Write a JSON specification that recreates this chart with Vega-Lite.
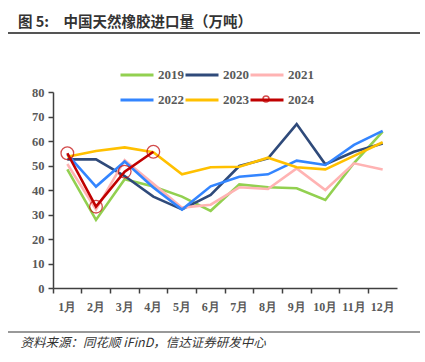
{
  "$schema": "https://vega.github.io/schema/vega-lite/v6.json",
  "autosize": "none",
  "width": 344,
  "height": 196,
  "padding": {"left": 53, "top": 92, "right": 28, "bottom": 74},
  "background": "white",
  "title": {
    "text": "图 5:　中国天然橡胶进口量（万吨）",
    "anchor": "start",
    "frame": "group",
    "dx": -35,
    "offset": 2,
    "font": "Noto Sans CJK SC",
    "fontSize": 14.5,
    "fontWeight": "bold",
    "color": "#333333"
  },
  "config": {
    "view": {"stroke": null},
    "axis": {"grid": false},
    "axisX": {
      "labelAngle": 0,
      "labelFont": "Liberation Serif",
      "labelFontWeight": "bold",
      "labelFontSize": 12,
      "labelColor": "#595959",
      "labelPadding": 8,
      "labelOverlap": false,
      "bandPosition": 0,
      "domainColor": "#404040",
      "domainWidth": 1.5,
      "tickColor": "#404040",
      "tickWidth": 1.5,
      "tickSize": 5
    },
    "axisY": {
      "labelOverlap": false,
      "labelFont": "Liberation Serif",
      "labelFontWeight": "bold",
      "labelFontSize": 12.5,
      "labelColor": "#595959",
      "labelPadding": 4,
      "domainColor": "#404040",
      "domainWidth": 1.5,
      "tickColor": "#404040",
      "tickWidth": 1.5,
      "tickSize": 5
    }
  },
  "datasets": {
    "decor": [{"k": "top"}]
  },
  "data": {
    "values": [
      {"month": "1月", "year": "2019", "value": 48.4},
      {"month": "2月", "year": "2019", "value": 27.8},
      {"month": "3月", "year": "2019", "value": 44.4},
      {"month": "4月", "year": "2019", "value": 41.4},
      {"month": "5月", "year": "2019", "value": 37.3},
      {"month": "6月", "year": "2019", "value": 31.5},
      {"month": "7月", "year": "2019", "value": 42.3},
      {"month": "8月", "year": "2019", "value": 41.1},
      {"month": "9月", "year": "2019", "value": 40.7},
      {"month": "10月", "year": "2019", "value": 35.9},
      {"month": "11月", "year": "2019", "value": 51.0},
      {"month": "12月", "year": "2019", "value": 63.8},
      {"month": "1月", "year": "2020", "value": 52.5},
      {"month": "2月", "year": "2020", "value": 52.5},
      {"month": "3月", "year": "2020", "value": 45.7},
      {"month": "4月", "year": "2020", "value": 37.3},
      {"month": "5月", "year": "2020", "value": 32.1},
      {"month": "6月", "year": "2020", "value": 38.0},
      {"month": "7月", "year": "2020", "value": 49.8},
      {"month": "8月", "year": "2020", "value": 52.9},
      {"month": "9月", "year": "2020", "value": 66.9},
      {"month": "10月", "year": "2020", "value": 50.5},
      {"month": "11月", "year": "2020", "value": 55.6},
      {"month": "12月", "year": "2020", "value": 59.0},
      {"month": "1月", "year": "2021", "value": 50.6},
      {"month": "2月", "year": "2021", "value": 32.0},
      {"month": "3月", "year": "2021", "value": 52.2},
      {"month": "4月", "year": "2021", "value": 42.5},
      {"month": "5月", "year": "2021", "value": 32.8},
      {"month": "6月", "year": "2021", "value": 34.0},
      {"month": "7月", "year": "2021", "value": 41.1},
      {"month": "8月", "year": "2021", "value": 40.4},
      {"month": "9月", "year": "2021", "value": 48.8},
      {"month": "10月", "year": "2021", "value": 40.0},
      {"month": "11月", "year": "2021", "value": 50.9},
      {"month": "12月", "year": "2021", "value": 48.4},
      {"month": "1月", "year": "2022", "value": 54.5},
      {"month": "2月", "year": "2022", "value": 41.4},
      {"month": "3月", "year": "2022", "value": 51.6},
      {"month": "4月", "year": "2022", "value": 41.0},
      {"month": "5月", "year": "2022", "value": 32.0},
      {"month": "6月", "year": "2022", "value": 41.5},
      {"month": "7月", "year": "2022", "value": 45.4},
      {"month": "8月", "year": "2022", "value": 46.4},
      {"month": "9月", "year": "2022", "value": 52.0},
      {"month": "10月", "year": "2022", "value": 50.2},
      {"month": "11月", "year": "2022", "value": 58.4},
      {"month": "12月", "year": "2022", "value": 64.1},
      {"month": "1月", "year": "2023", "value": 53.6},
      {"month": "2月", "year": "2023", "value": 55.9},
      {"month": "3月", "year": "2023", "value": 57.4},
      {"month": "4月", "year": "2023", "value": 55.4},
      {"month": "5月", "year": "2023", "value": 46.4},
      {"month": "6月", "year": "2023", "value": 49.3},
      {"month": "7月", "year": "2023", "value": 49.5},
      {"month": "8月", "year": "2023", "value": 53.2},
      {"month": "9月", "year": "2023", "value": 49.3},
      {"month": "10月", "year": "2023", "value": 48.4},
      {"month": "11月", "year": "2023", "value": 53.9},
      {"month": "12月", "year": "2023", "value": 59.5},
      {"month": "1月", "year": "2024", "value": 55.0},
      {"month": "2月", "year": "2024", "value": 33.2},
      {"month": "3月", "year": "2024", "value": 47.5},
      {"month": "4月", "year": "2024", "value": 55.6}
    ]
  },
  "layer": [
    {
      "mark": {"type": "line", "strokeWidth": 2.6},
      "encoding": {
        "x": {
          "field": "month",
          "type": "ordinal",
          "sort": ["1月","2月","3月","4月","5月","6月","7月","8月","9月","10月","11月","12月"],
          "scale": {"type": "band", "paddingInner": 0, "paddingOuter": 0},
          "axis": {
            "title": "资料来源：同花顺 iFinD，信达证券研发中心",
            "titleFont": "Noto Sans CJK SC",
            "titleFontStyle": "italic",
            "titleFontWeight": "normal",
            "titleFontSize": 12.5,
            "titleColor": "#333333",
            "titleAnchor": "start",
            "titleAlign": "left",
            "titleBaseline": "middle",
            "titleX": -33,
            "titleY": 54
          }
        },
        "y": {
          "field": "value",
          "type": "quantitative",
          "scale": {"domain": [0, 80], "nice": false},
          "axis": {
            "title": null,
            "values": [0,10,20,30,40,50,60,70,80],
            "labelOverlap": false
          }
        },
        "color": {
          "field": "year",
          "type": "nominal",
          "scale": {
            "domain": ["2019","2020","2021","2022","2023","2024"],
            "range": ["#92D050","#2F4A7A","#FFB3B3","#3385FF","#FFC000","#C00000"]
          },
          "legend": {
            "title": null,
            "orient": "none",
            "legendX": 66,
            "legendY": -35,
            "direction": "horizontal",
            "columns": 3,
            "symbolType": "stroke",
            "symbolSize": 1089,
            "symbolStrokeWidth": 3,
            "labelFont": "Liberation Serif",
            "labelFontWeight": "bold",
            "labelFontSize": 13,
            "labelColor": "#595959",
            "labelOffset": 3,
            "columnPadding": -7,
            "rowPadding": -9
          }
        },
        "order": {"field": "year"}
      }
    },
    {
      "transform": [{"filter": "datum.year == '2024'"}],
      "mark": {"type": "point", "shape": "circle", "filled": false, "color": "#C00000", "size": 160, "strokeWidth": 1.3},
      "encoding": {
        "x": {"field": "month", "type": "ordinal", "sort": ["1月","2月","3月","4月","5月","6月","7月","8月","9月","10月","11月","12月"]},
        "y": {"field": "value", "type": "quantitative", "axis": {"title": null, "values": [0,10,20,30,40,50,60,70,80], "labelOverlap": false}},
        "shape": {
          "field": "year",
          "type": "ordinal",
          "scale": {"range": ["circle"]},
          "legend": {
            "title": null,
            "orient": "none",
            "legendX": 209,
            "legendY": 3,
            "padding": 0,
            "symbolSize": 36,
            "symbolFillColor": "white",
            "symbolStrokeColor": "#C00000",
            "symbolStrokeWidth": 1.5,
            "labelFontSize": 1,
            "labelOpacity": 0,
            "labelOffset": 0
          }
        }
      }
    },
    {
      "data": {"name": "decor"},
      "mark": {"type": "rule", "color": "#555555", "strokeWidth": 2, "clip": false},
      "encoding": {
        "x": {"value": -45},
        "x2": {"value": 367},
        "y": {"value": -59}
      }
    },
    {
      "data": {"name": "decor"},
      "mark": {"type": "rule", "color": "#999999", "strokeWidth": 2, "clip": false},
      "encoding": {
        "x": {"value": -45},
        "x2": {"value": 367},
        "y": {"value": 240}
      }
    }
  ]
}
